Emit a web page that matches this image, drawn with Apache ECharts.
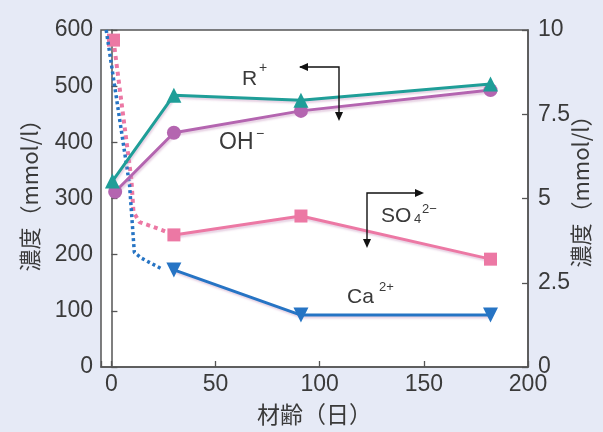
<!DOCTYPE html>
<html><head><meta charset="utf-8">
<script src="https://cdn.jsdelivr.net/npm/echarts@6/dist/echarts.min.js"></script>
<style>html,body{margin:0;padding:0;background:#e6eaf6;}#c{width:603px;height:432px;}</style>
</head><body><div id="c"></div>
<script>
// ---- data ----
const ageR = [0.5, 30, 91, 182];
const rPlus = [331, 484, 475, 504];            // mmol/l, left axis
const ageOH = [1.8, 30, 91, 182];
const ohMinus = [312, 417, 456, 493];          // mmol/l, left axis
const ageSO4 = [1, 30, 91, 182];
const so4 = [9.7, 3.92, 4.48, 3.2];            // mmol/l, right axis
const ageCa = [30, 91, 182];
const ca = [2.88, 1.54, 1.54];                 // mmol/l, right axis
const so4EarlyAge = [1, 9.6, 10.6, 13.5, 24, 30];
const so4Early = [9.7, 5.55, 4.6, 4.3, 4.07, 3.92];
const caEarlyAge = [-2.5, 8.7, 11, 14.4, 24.5];
const caEarly = [10, 5.4, 3.4, 3.23, 2.9];
const leftTicks = [0, 100, 200, 300, 400, 500, 600];
const rightTicks = [0, 2.5, 5, 7.5, 10];
const xTickLabels = [0, 50, 100, 150, 200];
const yAxisTitle = '濃度（mmol/l）';
const xAxisTitle = '材齢（日）';

const zip = (a, b) => a.map((v, i) => [v, b[i]]);
const FONT = "'Liberation Sans', Arial, 'Noto Sans CJK JP', sans-serif";
const CJK = "'Noto Sans CJK JP', sans-serif";
const TXT = '#3a3a3a';
const C = { r: '#1f9e98', oh: '#b465b0', so4: '#ec78a4', ca: '#2674c4' };
const shadow = { shadowColor: 'rgba(200,150,190,0.45)', shadowBlur: 2, shadowOffsetX: 1, shadowOffsetY: 2 };

const chart = echarts.init(document.getElementById('c'));

function arrowHead(x, y, dir) {
  const L = 9, W = 4;
  let pts;
  if (dir === 'left') pts = [[x, y], [x + L, y - W], [x + L, y + W]];
  if (dir === 'right') pts = [[x, y], [x - L, y - W], [x - L, y + W]];
  if (dir === 'down') pts = [[x, y], [x - W, y - L], [x + W, y - L]];
  return { type: 'polygon', shape: { points: pts }, style: { fill: '#111' }, z: 100 };
}
function seg(pts) {
  return { type: 'polyline', shape: { points: pts }, style: { stroke: '#111', lineWidth: 1.4, fill: null }, z: 100 };
}
function txt(x, y, s, size) {
  return { type: 'text', x: x, y: y, z: 100, style: { text: s, fontSize: size, fontFamily: FONT, fill: TXT, textVerticalAlign: 'top' } };
}
function vtitle(x, y, s) {
  return { type: 'text', x: x, y: y, rotation: Math.PI / 2, z: 100,
    style: { text: s, fontSize: 22, fontFamily: CJK, fill: TXT, textAlign: 'center', textVerticalAlign: 'middle' } };
}

const so4SolidData = zip(ageSO4, so4).slice(1);
const so4EarlyData = zip(so4EarlyAge, so4Early).map((p, i) => ({ value: p, symbol: i === 0 ? 'rect' : 'none' }));

chart.setOption({
  backgroundColor: '#e6eaf6',
  animation: false,
  grid: { left: 101, right: 75, top: 30, bottom: 65, show: true, backgroundColor: '#ffffff', borderColor: '#555', borderWidth: 1.5 },
  xAxis: {
    type: 'value', min: -5, max: 200,
    name: xAxisTitle, nameLocation: 'middle', nameGap: 36,
    nameTextStyle: { fontFamily: CJK, fontSize: 23, color: TXT },
    axisLine: { lineStyle: { color: '#555', width: 1.5 } },
    axisTick: { inside: true, length: 6, lineStyle: { color: '#555', width: 1.3 } },
    axisLabel: { fontSize: 23, fontFamily: FONT, color: TXT, margin: 6,
      formatter: v => xTickLabels.includes(v) ? String(v) : '' },
    splitLine: { show: false }
  },
  yAxis: [{
    type: 'value', min: leftTicks[0], max: leftTicks[leftTicks.length - 1], interval: 100, position: 'left',
    axisLine: { show: true, lineStyle: { color: '#555', width: 1.5 } },
    axisTick: { inside: true, length: 6, lineStyle: { color: '#555', width: 1.3 } },
    axisLabel: { fontSize: 23, fontFamily: FONT, color: TXT, margin: 8 },
    splitLine: { show: false }
  }, {
    type: 'value', min: rightTicks[0], max: rightTicks[rightTicks.length - 1], interval: 2.5, position: 'right',
    axisLine: { show: true, lineStyle: { color: '#555', width: 1.5 } },
    axisTick: { inside: true, length: 6, lineStyle: { color: '#555', width: 1.3 } },
    axisLabel: { fontSize: 23, fontFamily: FONT, color: TXT, margin: 10 },
    splitLine: { show: false }
  }],
  series: [
    { name: 'SO4 early', type: 'line', yAxisIndex: 1, data: so4EarlyData, symbolSize: 13,
      itemStyle: { color: C.so4 }, lineStyle: { color: C.so4, width: 4, type: [4, 4] }, z: 2 },
    { name: 'Ca early', type: 'line', yAxisIndex: 1, data: zip(caEarlyAge, caEarly), showSymbol: false, symbol: 'none',
      lineStyle: { color: C.ca, width: 3.5, type: [3, 3] }, z: 3 },
    { name: 'SO4', type: 'line', yAxisIndex: 1, data: so4SolidData, symbol: 'rect', symbolSize: 13,
      itemStyle: { color: C.so4 }, lineStyle: Object.assign({ color: C.so4, width: 3 }, shadow), z: 4 },
    { name: 'Ca', type: 'line', yAxisIndex: 1, data: zip(ageCa, ca), symbol: 'triangle', symbolRotate: 180, symbolSize: 15,
      itemStyle: { color: C.ca }, lineStyle: Object.assign({ color: C.ca, width: 3 }, shadow), z: 5 },
    { name: 'OH', type: 'line', yAxisIndex: 0, data: zip(ageOH, ohMinus), symbol: 'circle', symbolSize: 14,
      itemStyle: { color: C.oh }, lineStyle: Object.assign({ color: C.oh, width: 3 }, shadow), z: 6 },
    { name: 'R', type: 'line', yAxisIndex: 0, data: zip(ageR, rPlus), symbol: 'triangle', symbolSize: 15,
      itemStyle: { color: C.r }, lineStyle: Object.assign({ color: C.r, width: 3 }, shadow), z: 7 }
  ],
  graphic: [
    vtitle(30, 190, yAxisTitle), vtitle(581, 186, yAxisTitle),
    // R+ label and arrow (left axis)
    txt(242, 69, 'R', 21), txt(259, 61, '+', 14),
    seg([[300, 67], [339, 67], [339, 118]]), arrowHead(299, 67, 'left'), arrowHead(339, 121, 'down'),
    // OH-
    txt(219, 131, 'OH', 23), txt(256, 127, '−', 14),
    // SO4 2- label and arrow (right axis)
    seg([[367, 244], [367, 193], [420, 193]]), arrowHead(367, 248, 'down'), arrowHead(424, 193, 'right'),
    txt(381, 206, 'SO', 21), txt(414, 213, '4', 13), txt(422, 203, '2−', 13),
    // Ca2+
    txt(347, 287, 'Ca', 21), txt(379, 281, '2+', 13)
  ]
});
</script></body></html>
